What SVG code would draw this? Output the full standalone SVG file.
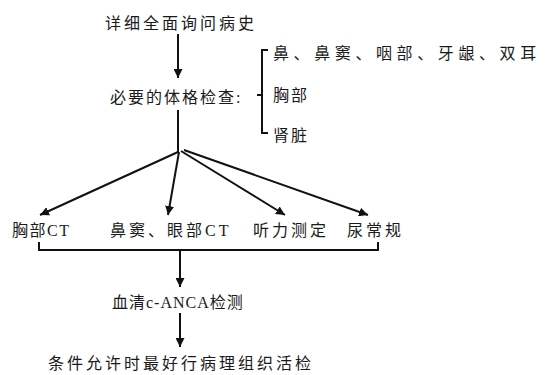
<svg xmlns="http://www.w3.org/2000/svg" width="555" height="375" viewBox="0 0 555 375">
<defs>
<marker id="ah" viewBox="0 0 10 10" refX="10" refY="5" markerWidth="4.5" markerHeight="4.5" orient="auto" markerUnits="strokeWidth">
<path d="M0,0 L10,5 L0,10 Z" fill="#111"/>
</marker>
</defs>
<style>
text{font-family:"Liberation Serif","Noto Sans CJK SC",serif;font-size:16px;fill:#1a1a1a;letter-spacing:3px}
.ln{stroke:#111;stroke-width:2;fill:none}
.ar{stroke:#111;stroke-width:2;fill:none;marker-end:url(#ah)}
</style>
<rect width="555" height="375" fill="#fff"/>
<g id="connectors">
<path class="ar" d="M178,34 V78"/>
<path class="ln" d="M268,50 H262 V133 H268 M262,95 H257"/>
<path class="ln" d="M178,110 V152"/>
<path class="ar" d="M178,152 L40,215"/>
<path class="ar" d="M179,152 L168,215"/>
<path class="ar" d="M181,151 L285,215"/>
<path class="ar" d="M184,150 L368,215"/>
<path class="ln" d="M39,242 V250 H378 V242"/>
<path class="ar" d="M180,250 V287"/>
<path class="ar" d="M180,313 V347"/>
</g>
<g id="history"><text x="105" y="29">详细全面询问病史</text></g>
<g id="physical"><text x="110" y="103" style="letter-spacing:2px">必要的体格检查:</text></g>
<g id="nose"><text x="273" y="59" style="letter-spacing:4.6px">鼻、鼻窦、咽部、牙龈、双耳</text></g>
<g id="chest"><text x="273" y="101" style="letter-spacing:2px">胸部</text></g>
<g id="kidney"><text x="273" y="141" style="letter-spacing:2px">肾脏</text></g>
<g id="chestct"><text x="12" y="236" style="letter-spacing:1.5px">胸部CT</text></g>
<g id="sinusct"><text x="110" y="236">鼻窦、眼部CT</text></g>
<g id="hearing"><text x="253" y="236">听力测定</text></g>
<g id="urine"><text x="347" y="236">尿常规</text></g>
<g id="anca"><text x="112" y="308" style="letter-spacing:1px">血清c-ANCA检测</text></g>
<g id="biopsy"><text x="48" y="369">条件允许时最好行病理组织活检</text></g>
</svg>
